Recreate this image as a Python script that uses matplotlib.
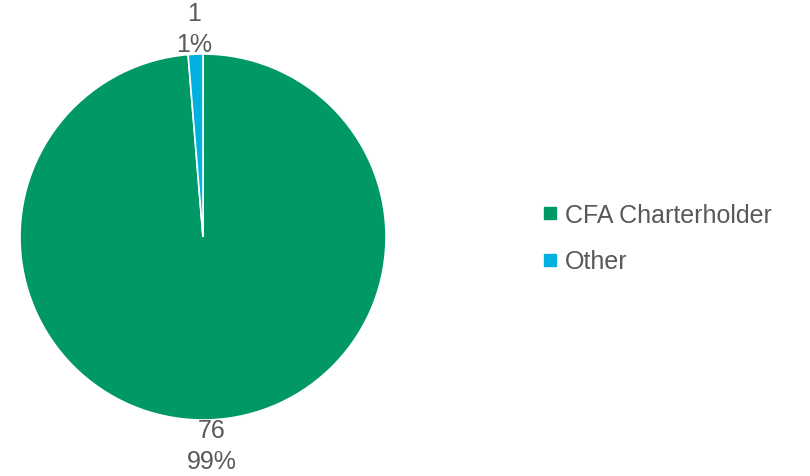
import matplotlib.pyplot as plt
from matplotlib.lines import Line2D

plt.rcParams['font.family'] = ['Liberation Sans', 'DejaVu Sans']

categories = ['CFA Charterholder', 'Other']
counts = [76, 1]
colors = ['#009966', '#00B0E0']
text_color = '#595959'

total = sum(counts)


def fmt(pct):
    n = round(pct * total / 100)
    return f'{n}\n{pct:.0f}%'


fig = plt.figure(figsize=(8.1, 4.77), dpi=100)
ax = fig.add_axes([20 / 810, 56 / 477, 366 / 810, 366 / 477])
wedges, _, autotexts = ax.pie(
    counts, colors=colors, startangle=90, counterclock=False,
    autopct=fmt, pctdistance=1.14, radius=1,
    wedgeprops=dict(edgecolor='white', linewidth=1.2),
    textprops=dict(color=text_color, fontsize=18, linespacing=1.4),
)
ax.set_xlim(-1, 1)
ax.set_ylim(-1, 1)
ax.set_aspect('equal')

handles = [Line2D([], [], marker='s', linestyle='none', markersize=9,
                  markerfacecolor=c, markeredgecolor=c) for c in colors]
fig.legend(handles, categories, loc='center left',
           bbox_to_anchor=(520 / 810, 1 - 239 / 477), frameon=False,
           fontsize=18, labelcolor=text_color, handlelength=0.6,
           handletextpad=0.3, labelspacing=0.9)

fig.savefig('out.png', dpi=100)
